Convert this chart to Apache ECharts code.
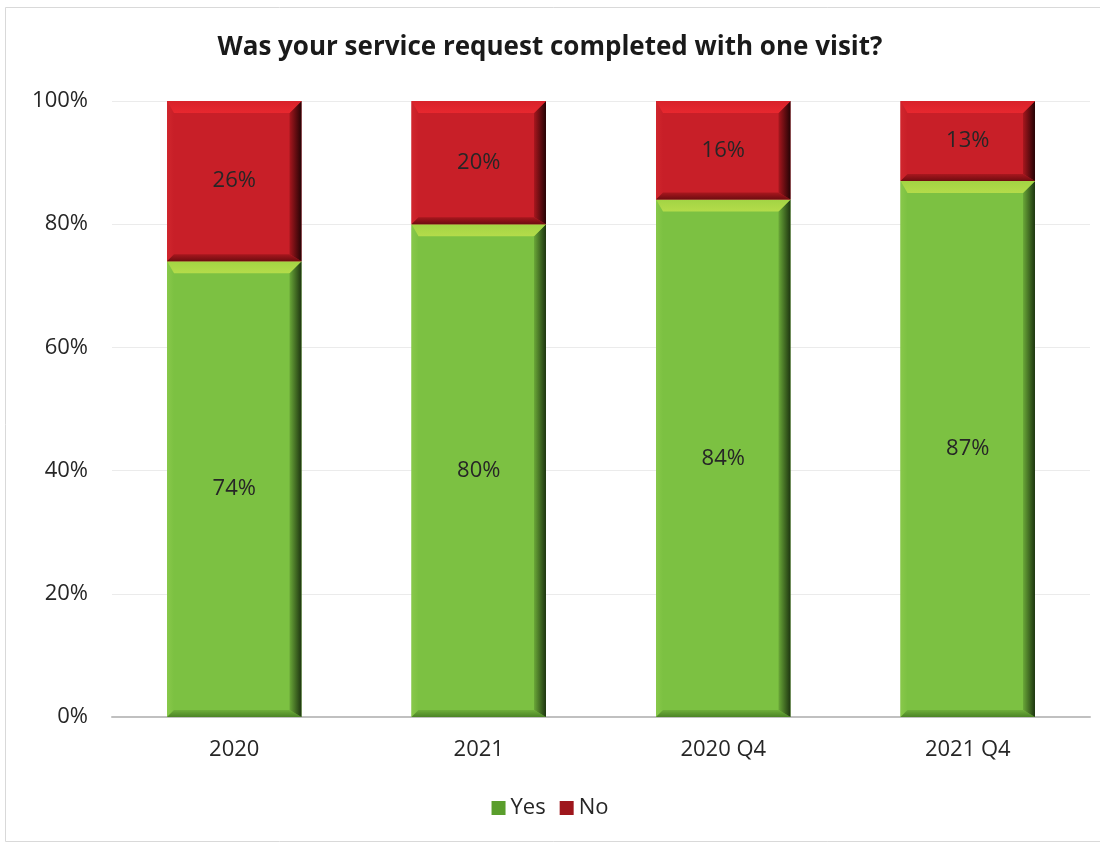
<!DOCTYPE html>
<html>
<head>
<meta charset="utf-8">
<script src="https://cdn.jsdelivr.net/npm/echarts@6/dist/echarts.min.js"></script>
<style>
  html, body { margin: 0; padding: 0; background: #fff; }
  #chart { width: 1100px; height: 844px; }
</style>
</head>
<body>
<div id="chart"></div>
<script>
// Survey answers per period (percent of responses)
const categories = ['2020', '2021', '2020 Q4', '2021 Q4'];
const yesValues = [74, 80, 84, 87];
const noValues = [26, 20, 16, 13];
const yTicks = [0, 20, 40, 60, 80, 100];

const FONT = '"Open Sans", "DejaVu Sans", sans-serif';

// Bevelled bar palettes
const palettes = {
  Yes: { face: '#7cc142', top0: '#a2d444', top1: '#b4dc4a', left: '#88c84a', bottom0: '#6eae3a', bottom1: '#4c8426', edgeIn: '#6aa838', edgeOut: '#1d3510' },
  No:  { face: '#c81f28', top0: '#d8222a', top1: '#e8282f', left: '#d0262d', bottom0: '#a8171e', bottom1: '#6e0c10', edgeIn: '#a8171e', edgeOut: '#250305' }
};

function bevelRenderer(pal) {
  return function (params, api) {
    const idx = api.value(0);
    const base = api.value(1);
    const val = api.value(2);
    const pb = api.coord([idx, base]);
    const pt = api.coord([idx, base + val]);
    const w = api.size([1, 0])[0] * 0.55;
    const x0 = pb[0] - w / 2, x1 = pb[0] + w / 2;
    const yb = pb[1], yt = pt[1];
    const b = Math.min(12, (yb - yt) / 2);
    const bl = 7;   // left bevel is narrower
    const bb = 7;   // bottom bevel
    const lin = (x, y, x2, y2, c0, c1) => new echarts.graphic.LinearGradient(x, y, x2, y2, [
      { offset: 0, color: c0 }, { offset: 1, color: c1 }
    ]);
    const children = [
      { type: 'rect', shape: { x: x0, y: yt, width: w, height: yb - yt }, style: { fill: pal.face } },
      // left bevel
      { type: 'polygon', shape: { points: [[x0, yt], [x0 + bl, yt + b], [x0 + bl, yb - bb], [x0, yb]] },
        style: { fill: lin(0, 0, 1, 0, pal.left, pal.face) } },
      // bottom bevel
      { type: 'polygon', shape: { points: [[x0, yb], [x0 + bl, yb - bb], [x1 - b, yb - bb], [x1, yb]] },
        style: { fill: lin(0, 0, 0, 1, pal.bottom0, pal.bottom1) } },
      // right bevel, shaded to dark
      { type: 'polygon', shape: { points: [[x1, yt], [x1 - b, yt + b], [x1 - b, yb - bb], [x1, yb]] },
        style: { fill: lin(0, 0, 1, 0, pal.edgeIn, pal.edgeOut) } },
      // top bevel
      { type: 'polygon', shape: { points: [[x0, yt], [x1, yt], [x1 - b, yt + b], [x0 + bl, yt + b]] },
        style: { fill: lin(0, 0, 0, 1, pal.top0, pal.top1) } },
      // value label
      { type: 'text', style: {
          text: val + '%', x: pb[0], y: (yb + yt) / 2,
          align: 'center', verticalAlign: 'middle',
          font: '22px ' + FONT, fill: '#262626'
        } }
    ];
    return { type: 'group', children: children };
  };
}

const yesData = yesValues.map((v, i) => [i, 0, v]);
const noData = noValues.map((v, i) => [i, yesValues[i], v]);

const chart = echarts.init(document.getElementById('chart'), null, { renderer: 'canvas' });
chart.setOption({
  backgroundColor: '#ffffff',
  animation: false,
  graphic: [{
    type: 'rect', shape: { x: 5.5, y: 7.5, width: 1100, height: 834 },
    style: { fill: 'none', stroke: '#d9d9d9', lineWidth: 1 }, silent: true, z: -10
  }],
  title: {
    text: 'Was your service request completed with one visit?',
    left: 'center', top: 30,
    textStyle: { fontFamily: FONT, fontSize: 26, fontWeight: 'bold', color: '#1a1a1a' }
  },
  legend: {
    bottom: 20, left: 'center',
    itemWidth: 14, itemHeight: 14, itemGap: 14,
    icon: 'rect',
    textStyle: { fontFamily: FONT, fontSize: 22, color: '#262626' },
    data: ['Yes', 'No']
  },
  grid: { left: 112, right: 10, top: 101, bottom: 127, containLabel: false },
  xAxis: {
    type: 'category', data: categories,
    axisLine: { lineStyle: { color: '#c0c0c0', width: 2 } },
    axisTick: { show: false },
    axisLabel: { fontFamily: FONT, fontSize: 22, color: '#262626', margin: 22 }
  },
  yAxis: {
    type: 'value', min: yTicks[0], max: yTicks[yTicks.length - 1], interval: 20,
    axisLine: { show: false }, axisTick: { show: false },
    splitLine: { lineStyle: { color: '#ebebeb', width: 1 } },
    axisLabel: { fontFamily: FONT, fontSize: 22, color: '#262626', margin: 24, formatter: '{value}%' }
  },
  series: [
    { name: 'Yes', type: 'custom', data: yesData, renderItem: bevelRenderer(palettes.Yes),
      encode: { x: 0, y: [1, 2] }, itemStyle: { color: '#5a9e2c' } },
    { name: 'No', type: 'custom', data: noData, renderItem: bevelRenderer(palettes.No),
      encode: { x: 0, y: [1, 2] }, itemStyle: { color: '#9e161c' } }
  ]
});
</script>
</body>
</html>
